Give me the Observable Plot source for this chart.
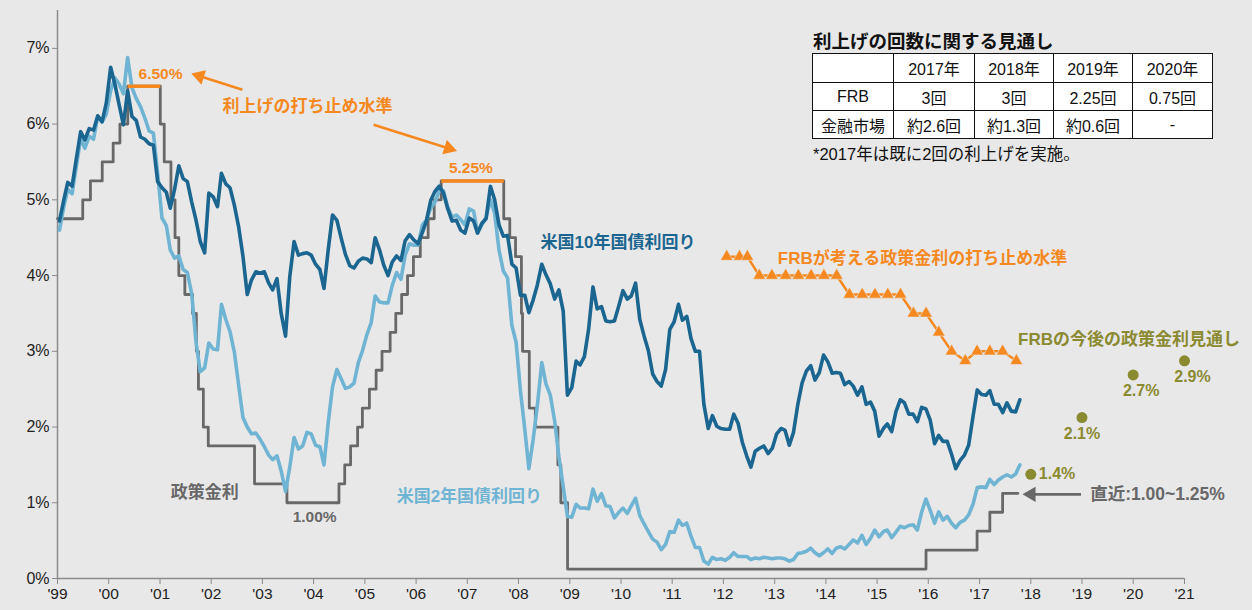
<!DOCTYPE html>
<html><head><meta charset="utf-8">
<script src="https://cdn.jsdelivr.net/npm/d3@7"></script>
<script src="https://cdn.jsdelivr.net/npm/@observablehq/plot@0.6"></script>
<style>
html,body{margin:0;padding:0;background:#e8e8e8;}
#wrap{position:relative;width:1252px;height:610px;overflow:hidden;background:#e8e8e8;}
#tblbox{position:absolute;left:812px;top:30px;font-family:"Liberation Sans","Noto Sans CJK JP",sans-serif;color:#111;}
#tblbox .ttl{font-weight:bold;font-size:18.5px;line-height:23px;height:23px;margin-left:1px;}
#tblbox table{border-collapse:collapse;background:#fff;}
#tblbox td{border:1.6px solid #111;font-size:16px;text-align:center;padding:0;}
#tblbox .note{font-size:16.5px;margin-top:2px;margin-left:1px;}
</style></head>
<body><div id="wrap"><div id="chart"></div><div id="tblbox"></div></div>
<script>
// ---- data ----
// monthly, starting Jan 1999
const us10y = [
4.72,5.00,5.23,5.18,5.54,5.90,5.79,5.94,5.92,6.11,6.03,6.28,
6.75,6.52,6.26,5.99,6.44,6.10,6.05,5.83,5.80,5.74,5.72,5.24,
5.16,5.10,4.89,5.14,5.45,5.28,5.24,4.97,4.73,4.45,4.30,5.09,
5.04,4.91,5.35,5.21,5.16,4.93,4.65,4.26,3.75,3.94,4.05,4.03,
4.05,3.90,3.81,3.96,3.50,3.20,3.98,4.45,4.27,4.29,4.30,4.27,
4.15,4.08,3.83,4.35,4.80,4.73,4.50,4.28,4.13,4.10,4.19,4.23,
4.22,4.17,4.50,4.34,4.14,4.00,4.18,4.26,4.20,4.46,4.54,4.47,
4.42,4.57,4.72,4.99,5.11,5.18,5.09,4.88,4.72,4.73,4.60,4.56,
4.76,4.72,4.56,4.69,4.75,5.18,5.00,4.67,4.52,4.53,4.15,4.10,
3.74,3.74,3.51,3.68,3.88,4.15,4.01,3.89,3.69,3.81,3.53,2.42,
2.52,2.87,2.82,2.93,3.29,3.85,3.56,3.59,3.40,3.39,3.40,3.59,
3.80,3.69,3.73,3.90,3.42,3.20,3.01,2.70,2.60,2.54,2.76,3.29,
3.39,3.62,3.41,3.46,3.17,3.00,3.00,2.30,1.98,2.15,2.01,1.98,
1.97,1.97,2.17,2.05,1.80,1.62,1.47,1.68,1.72,1.75,1.65,1.72,
1.91,1.98,1.96,1.76,1.93,2.30,2.58,2.74,2.81,2.62,2.72,2.95,
2.86,2.71,2.72,2.71,2.56,2.60,2.54,2.42,2.53,2.30,2.33,2.21,
1.88,1.98,2.04,1.94,2.20,2.36,2.32,2.17,2.17,2.07,2.26,2.24,
2.09,1.78,1.89,1.81,1.81,1.64,1.45,1.56,1.63,1.76,2.14,2.49,
2.43,2.42,2.48,2.30,2.30,2.19,2.32,2.21,2.20,2.36];
const us2y = [
4.60,4.91,5.14,5.08,5.44,5.81,5.68,5.84,5.80,6.10,6.03,6.13,
6.44,6.61,6.53,6.40,6.88,6.48,6.34,6.23,6.08,5.91,5.88,5.35,
4.76,4.66,4.34,4.23,4.26,4.08,4.04,3.76,3.12,2.73,2.78,3.11,
3.03,3.02,3.62,3.42,3.26,2.99,2.56,2.13,2.00,1.91,1.92,1.84,
1.74,1.63,1.57,1.62,1.42,1.15,1.47,1.86,1.71,1.75,1.93,1.91,
1.76,1.74,1.50,2.07,2.53,2.76,2.64,2.51,2.53,2.58,2.85,3.01,
3.22,3.38,3.73,3.65,3.64,3.64,3.87,4.04,3.95,4.27,4.42,4.40,
4.40,4.67,4.73,4.89,4.97,5.12,5.12,4.90,4.77,4.80,4.74,4.67,
4.88,4.85,4.57,4.67,4.77,5.00,4.82,4.34,4.06,3.97,3.34,3.12,
2.48,1.97,1.45,1.84,2.29,2.85,2.57,2.42,2.08,1.61,1.21,0.82,
0.81,0.98,0.93,0.93,0.92,1.18,1.02,1.12,0.96,0.95,0.80,0.87,
0.93,0.86,0.96,1.06,0.83,0.72,0.62,0.52,0.48,0.38,0.45,0.62,
0.61,0.77,0.70,0.73,0.56,0.41,0.41,0.23,0.19,0.28,0.25,0.26,
0.24,0.28,0.34,0.29,0.29,0.29,0.25,0.27,0.26,0.28,0.27,0.26,
0.27,0.27,0.26,0.23,0.25,0.33,0.34,0.36,0.40,0.34,0.30,0.34,
0.39,0.33,0.40,0.42,0.39,0.45,0.51,0.47,0.57,0.45,0.53,0.64,
0.55,0.62,0.64,0.54,0.61,0.69,0.67,0.70,0.71,0.64,0.88,1.05,
0.90,0.73,0.88,0.77,0.82,0.73,0.67,0.74,0.77,0.84,0.98,1.20,
1.21,1.20,1.31,1.24,1.30,1.34,1.37,1.34,1.38,1.50];
const policyDates = ["1999-01-01","1999-06-30","1999-08-24","1999-11-16","2000-02-02","2000-03-21","2000-05-16",
"2001-01-03","2001-01-31","2001-03-20","2001-04-18","2001-05-15","2001-06-27","2001-08-21","2001-09-17","2001-10-02",
"2001-11-06","2001-12-11","2002-11-06","2003-06-25","2004-06-30","2004-08-10","2004-09-21","2004-11-10","2004-12-14",
"2005-02-02","2005-03-22","2005-05-03","2005-06-30","2005-08-09","2005-09-20","2005-11-01","2005-12-13","2006-01-31",
"2006-03-28","2006-05-10","2006-06-29","2007-09-18","2007-10-31","2007-12-11","2008-01-22","2008-01-30","2008-03-18",
"2008-04-30","2008-10-08","2008-10-29","2008-12-16","2015-12-16","2016-12-14","2017-03-15","2017-06-14","2017-10-01"];
const policyRates = [4.75,5.00,5.25,5.50,5.75,6.00,6.50,
6.00,5.50,5.00,4.50,4.00,3.75,3.50,3.00,2.50,
2.00,1.75,1.25,1.00,1.25,1.50,1.75,2.00,2.25,
2.50,2.75,3.00,3.25,3.50,3.75,4.00,4.25,4.50,
4.75,5.00,5.25,4.75,4.50,4.25,3.50,3.00,2.25,
2.00,1.50,1.00,0.125,0.375,0.625,0.875,1.125,1.125];
const longRunDates = ["2012-01-25","2012-04-25","2012-06-20","2012-09-13","2012-12-12",
"2013-03-20","2013-06-19","2013-09-18","2013-12-18","2014-03-19","2014-06-18","2014-09-17","2014-12-17",
"2015-03-18","2015-06-17","2015-09-17","2015-12-16","2016-03-16","2016-06-15","2016-09-21","2016-12-14",
"2017-03-15","2017-06-14","2017-09-20"];
const longRunRates = [4.25,4.25,4.25,4.0,4.0,4.0,4.0,4.0,4.0,4.0,3.75,3.75,3.75,3.75,3.75,3.5,3.5,3.25,3.0,2.875,3.0,3.0,3.0,2.875];
const projYears = [2018,2019,2020,2021];
const projRates = [1.375,2.125,2.6875,2.875];
const projLabels = ["1.4%","2.1%","2.7%","2.9%"];
const peakStart = ["2000-05-16","2006-06-29"];
const peakEnd = ["2001-01-03","2007-09-18"];
const peakRate = [6.5,5.25];
const peakLabels = ["6.50%","5.25%"];
const xTickYears = [1999,2000,2001,2002,2003,2004,2005,2006,2007,2008,2009,2010,2011,2012,2013,2014,2015,2016,2017,2018,2019,2020,2021];
const yTicks = [0,1,2,3,4,5,6,7];
const tableTitle = "利上げの回数に関する見通し";
const tableYears = ["2017年","2018年","2019年","2020年"];
const frbCounts = ["3回","3回","2.25回","0.75回"];
const marketCounts = ["約2.6回","約1.3回","約0.6回","-"];
const tableNote = "*2017年は既に2回の利上げを実施。";

// ---- helpers ----
const parse = d3.utcParse("%Y-%m-%d");
const yr = f => { const y = Math.floor(f); const a = Date.UTC(y,0,1), b = Date.UTC(y+1,0,1); return new Date(a + (f-y)*(b-a)); };
const monthDate = i => new Date(Date.UTC(1999, i, 15));
const s10 = us10y.map((v,i)=>({date:monthDate(i), v}));
const s2 = us2y.map((v,i)=>({date:monthDate(i), v}));
const pol = policyDates.map((d,i)=>({date:parse(d), v:policyRates[i]}));
const lr = longRunDates.map((d,i)=>({date:parse(d), v:longRunRates[i]}));
const proj = projYears.map((y,i)=>({date:yr(y), v:projRates[i], label:projLabels[i]}));
const peaks = peakStart.map((d,i)=>({x1:parse(d), x2:parse(peakEnd[i]), v:peakRate[i], label:peakLabels[i]}));

const W = 1252, H = 610, ML = 57, MR = 68, MT = 10, MB = 32;
const xDomain = [yr(1999), yr(2021)], yDomain = [0, 7.5];
const C10 = "#1b6690", C2 = "#70b4d3", CG = "#686868", CO = "#f5891f", CV = "#8a8a30";
const FONT = '"Liberation Sans","Noto Sans CJK JP",sans-serif';
const txt = (x, y, text, o) => Plot.text([{x:yr(x), y, text}], {x:"x", y:"y", text:"text", fontWeight:"bold", ...o});

// arrows with filled heads: shaft + rotated triangle, using the same scales as the plot
const xs = Plot.scale({x:{type:"utc", domain:xDomain, range:[ML, W-MR]}});
const ys = Plot.scale({y:{domain:yDomain, range:[H-MB, MT]}});
const arrowSpecs = [
  {x1:2002.61, y1:6.455, x2:2001.68, y2:6.653, c:CO},
  {x1:2005.17, y1:5.99, x2:2006.73, y2:5.66, c:CO},
  {x1:2018.98, y1:1.111, x2:2017.91, y2:1.111, c:CG}
];
const arrowMarks = arrowSpecs.flatMap(a => {
  const px1 = xs.apply(yr(a.x1)), py1 = ys.apply(a.y1), px2 = xs.apply(yr(a.x2)), py2 = ys.apply(a.y2);
  const len = Math.hypot(px2-px1, py2-py1), ux = (px2-px1)/len, uy = (py2-py1)/len;
  const hx = px2 - ux*5, hy = py2 - uy*5;
  const rot = Math.atan2(ux, -uy) * 180 / Math.PI;
  const head = {x:xs.invert(hx), y:ys.invert(hy)};
  const shaft = {x1:yr(a.x1), y1:a.y1, x2:xs.invert(hx - ux*3), y2:ys.invert(hy - uy*3)};
  return [
    Plot.link([shaft], {x1:"x1", y1:"y1", x2:"x2", y2:"y2", stroke:a.c, strokeWidth:2.6}),
    Plot.dot([head], {x:"x", y:"y", symbol:"triangle", r:5.6, fill:a.c, rotate:rot})
  ];
});

const chart = Plot.plot({
  width:W, height:H, marginLeft:ML, marginRight:MR, marginTop:MT, marginBottom:MB,
  style:{background:"#e8e8e8", fontFamily:FONT, fontSize:"15px", color:"#222"},
  x:{type:"utc", domain:xDomain},
  y:{domain:yDomain},
  marks:[
    Plot.axisY({ticks:yTicks, tickFormat:d=>d+"%", tickSize:5, tickPadding:3, stroke:"#8a8a8a", fill:"#222", fontSize:16}),
    Plot.axisX({ticks:xTickYears.map(y=>yr(y)), tickFormat:d=>"'"+String(d.getUTCFullYear()).slice(2), tickSize:6, tickPadding:3, stroke:"#8a8a8a", fill:"#222", fontSize:15.5}),
    Plot.ruleX([yr(1999)], {y1:0, y2:7.5, stroke:"#8a8a8a", strokeWidth:1.5}),
    Plot.ruleY([0], {x1:yr(1999), x2:yr(2021), stroke:"#8a8a8a", strokeWidth:1.5}),
    Plot.line(pol, {x:"date", y:"v", curve:"step-after", stroke:CG, strokeWidth:2.8}),
    Plot.line(s2, {x:"date", y:"v", stroke:C2, strokeWidth:3.6}),
    Plot.line(s10, {x:"date", y:"v", stroke:C10, strokeWidth:3.6}),
    Plot.link(peaks, {x1:"x1", x2:"x2", y1:"v", y2:"v", stroke:CO, strokeWidth:3.5}),
    Plot.line(lr, {x:"date", y:"v", stroke:CO, strokeWidth:2.5}),
    Plot.dot(lr, {x:"date", y:"v", symbol:"triangle", r:4.7, fill:CO, stroke:"#e8e8e8", strokeWidth:0.6}),
    Plot.dot(proj, {x:"date", y:"v", r:5.5, fill:CV}),
    ...arrowMarks,
    // labels
    txt(2001.01, 6.667, peakLabels[0], {fill:CO, fontSize:15.5}),
    txt(2007.07, 5.42, peakLabels[1], {fill:CO, fontSize:15.5}),
    txt(2002.22, 6.23, "利上げの打ち止め水準", {fill:CO, fontSize:17, textAnchor:"start"}),
    txt(2008.43, 4.44, "米国10年国債利回り", {fill:C10, fontSize:17, textAnchor:"start"}),
    txt(2013.06, 4.23, "FRBが考える政策金利の打ち止め水準", {fill:CO, fontSize:17, textAnchor:"start"}),
    txt(2017.75, 3.15, "FRBの今後の政策金利見通し", {fill:CV, fontSize:17, textAnchor:"start"}),
    Plot.text(proj.slice(0,1), {x:"date", y:"v", text:"label", fill:CV, fontWeight:"bold", fontSize:16, textAnchor:"start", dx:8}),
    Plot.text(proj.slice(1,2), {x:"date", y:"v", text:"label", fill:CV, fontWeight:"bold", fontSize:16, dy:16}),
    Plot.text(proj.slice(2), {x:"date", y:"v", text:"label", fill:CV, fontWeight:"bold", fontSize:16, dx:8, dy:16}),
    txt(2019.16, 1.111, "直近:1.00~1.25%", {fill:CG, fontSize:17.5, textAnchor:"start"}),
    txt(2001.21, 1.138, "政策金利", {fill:CG, fontSize:17, textAnchor:"start"}),
    txt(2004.02, 0.807, "1.00%", {fill:CG, fontSize:15.5}),
    txt(2005.62, 1.085, "米国2年国債利回り", {fill:C2, fontSize:17, textAnchor:"start"})
  ]
});
document.getElementById("chart").appendChild(chart);

// table
const box = d3.select("#tblbox");
box.append("div").attr("class","ttl").text(tableTitle);
const table = box.append("table");
const widths = [80,80,78,78,79];
const heights = [28,27,27];
const rows = [["", ...tableYears], ["FRB", ...frbCounts], ["金融市場", ...marketCounts]];
rows.forEach((r,ri)=>{
  const tr = table.append("tr");
  r.forEach((c,ci)=>tr.append("td").style("width",widths[ci]+"px").style("height",heights[ri]+"px").text(c));
});
box.append("div").attr("class","note").text(tableNote);
</script>
</body></html>
